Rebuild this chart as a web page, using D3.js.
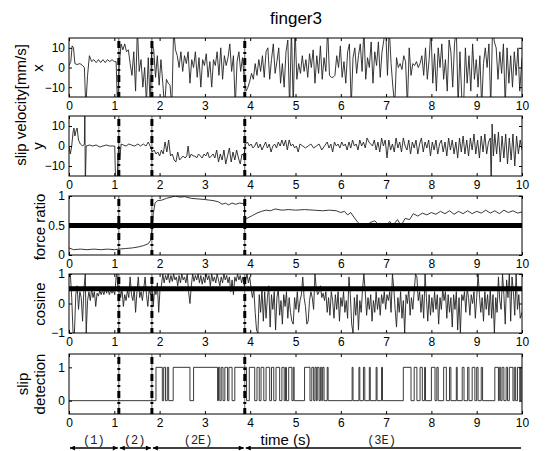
<!DOCTYPE html>
<html><head><meta charset="utf-8">
<script src="https://cdn.jsdelivr.net/npm/d3@7"></script>
<style>
body{margin:0;background:#fff;}
svg{display:block;font-family:"Liberation Sans",Arial,sans-serif;}
.tick text{font-size:12px;fill:#000;}
.tick line{stroke:#000;}
</style></head>
<body><svg id="c" width="546" height="451"></svg>
<script>
// ---------- DATA ----------
const xTicks = [0,1,2,3,4,5,6,7,8,9,10];
const phaseBounds = [1.1, 1.83, 3.88];
const phaseLabels = ["(1)","(2)","(2E)","(3E)"];
const phaseLabelT = [0.55, 1.45, 2.85, 6.9];

const velX = [[0,1],[0.04,3],[0.07,11],[0.1,10],[0.13,2],[0.18,1.5],[0.24,2],[0.3,1],[0.34,0],[0.37,-20],[0.41,-4],[0.45,6],[0.5,3],[0.55,4],[0.6,2.5],[0.65,4],[0.7,2.5],[0.75,4],[0.8,2.5],[0.85,4],[0.9,3],[0.95,4],[1,3],[1.04,3],[1.07,-20],[1.11,2],[1.15,12],[1.19,9],[1.23,12],[1.27,8],[1.31,9],[1.35,2],[1.39,-4],[1.43,8],[1.47,-12],[1.51,20],[1.55,-2],[1.59,4],[1.63,-10],[1.67,0],[1.71,-18],[1.75,5],[1.79,-18],[1.83,12],[1.87,9],[1.91,-5],[1.95,6],[1.99,-9],[2.03,4],[2.07,-8],[2.11,-20],[2.15,-6],[2.19,-8],[2.23,-9],[2.27,-20],[2.31,20],[2.35,9],[2.39,6],[2.43,0],[2.47,8],[2.51,-2],[2.55,6],[2.59,2],[2.63,8],[2.67,-8],[2.71,4],[2.75,0],[2.79,8],[2.83,-5],[2.87,5],[2.91,-10],[2.95,4],[2.99,1],[3.03,7],[3.07,-5],[3.11,3],[3.15,-10],[3.19,4],[3.23,1],[3.27,8],[3.31,-4],[3.35,10],[3.39,-6],[3.43,6],[3.47,1],[3.51,5],[3.55,12],[3.59,-2],[3.63,6],[3.67,-20],[3.71,3],[3.75,8],[3.79,-2],[3.83,5],[3.87,-6],[3.91,-12],[3.95,-10],[3.99,-7],[4.03,-3],[4.07,-6],[4.11,2],[4.15,-4],[4.19,4],[4.23,-2],[4.27,6],[4.31,-5],[4.35,8],[4.39,10],[4.43,-6],[4.47,4],[4.51,12],[4.55,-3],[4.59,3],[4.63,10],[4.67,-8],[4.71,2],[4.75,-10],[4.79,8],[4.83,14],[4.87,-20],[4.91,20],[4.95,-20],[4.99,20],[5.03,-6],[5.07,2],[5.11,-3],[5.15,6],[5.19,-2],[5.23,4],[5.27,-5],[5.31,7],[5.35,0],[5.39,9],[5.43,-8],[5.47,6],[5.51,-3],[5.55,11],[5.59,-6],[5.63,5],[5.67,-2],[5.71,20],[5.75,-4],[5.79,-5],[5.83,-5],[5.87,-4],[5.91,6],[5.95,0],[5.99,11],[6.03,-5],[6.07,3],[6.11,-8],[6.15,8],[6.19,12],[6.23,-20],[6.27,5],[6.31,10],[6.35,-3],[6.39,6],[6.43,12],[6.47,-2],[6.51,20],[6.55,-6],[6.59,5],[6.63,0],[6.67,13],[6.71,-8],[6.75,8],[6.79,1],[6.83,13],[6.87,-5],[6.91,8],[6.95,14],[6.99,20],[7.03,-4],[7.07,20],[7.11,2],[7.15,-10],[7.19,-20],[7.23,5],[7.27,0],[7.31,2],[7.35,-1],[7.39,6],[7.43,3],[7.47,-20],[7.51,10],[7.55,-4],[7.59,2],[7.63,1],[7.67,3],[7.71,0],[7.75,2],[7.79,6],[7.83,-4],[7.87,10],[7.91,-6],[7.95,4],[7.99,20],[8.03,-8],[8.07,7],[8.11,-12],[8.15,10],[8.19,0],[8.23,12],[8.27,-6],[8.31,4],[8.35,-12],[8.39,14],[8.43,8],[8.47,-10],[8.51,12],[8.55,20],[8.59,-20],[8.63,8],[8.67,-15],[8.71,-20],[8.75,10],[8.79,-8],[8.83,6],[8.87,-12],[8.91,12],[8.95,-6],[8.99,4],[9.03,-10],[9.07,6],[9.11,-20],[9.15,2],[9.19,10],[9.23,0],[9.27,12],[9.31,-20],[9.35,20],[9.39,13],[9.43,10],[9.47,-6],[9.51,8],[9.55,-3],[9.59,12],[9.63,-20],[9.67,10],[9.71,-8],[9.75,6],[9.79,-10],[9.83,8],[9.87,-4],[9.91,10],[9.95,-12],[10,5]];

const velY = [[0,0],[0.03,-4],[0.06,0],[0.09,7],[0.11,9],[0.13,5],[0.16,8],[0.18,9],[0.21,3],[0.25,1],[0.3,0],[0.34,1],[0.35,20],[0.36,-20],[0.38,0],[0.45,0.5],[0.52,0],[0.6,0.5],[0.68,-0.5],[0.75,0],[0.82,0.5],[0.9,0],[0.97,0],[1.01,0],[1.03,-20],[1.06,-20],[1.08,-5],[1.1,0],[1.12,-7],[1.15,1],[1.2,0.5],[1.26,0],[1.32,1],[1.38,0.5],[1.45,0],[1.52,1],[1.58,0],[1.64,1],[1.7,0],[1.75,2],[1.79,0],[1.84,-3],[1.88,-2],[1.92,-4],[1.96,-3],[2,-5],[2.04,-2],[2.08,-4],[2.12,2],[2.16,-3],[2.2,3],[2.24,-5],[2.28,-4],[2.32,-7],[2.36,-8],[2.4,-3],[2.44,-7],[2.48,-6],[2.52,-5],[2.56,-6],[2.6,-5],[2.63,0],[2.66,-6],[2.7,-4],[2.74,-5],[2.78,-5],[2.82,-6],[2.86,-4],[2.9,-5],[2.94,-6],[2.98,-4],[3.02,-5],[3.06,-3],[3.1,-6],[3.14,-5],[3.18,-4],[3.22,-6],[3.26,-2],[3.3,-8],[3.34,-4],[3.38,-7],[3.42,-2],[3.46,-9],[3.5,-5],[3.54,-1],[3.58,-8],[3.62,-3],[3.66,-7],[3.7,-2],[3.74,-6],[3.78,-9],[3.82,-4],[3.86,-5],[3.9,1],[3.94,2],[3.98,0],[4.02,1],[4.06,-1],[4.1,0],[4.14,2],[4.18,-1],[4.22,1],[4.26,-2],[4.3,0],[4.34,2],[4.38,-1],[4.42,1],[4.46,-3],[4.5,0],[4.54,1],[4.58,-1],[4.62,2],[4.66,0],[4.7,3],[4.74,0],[4.78,3],[4.82,-2],[4.86,3],[4.9,0],[4.94,1],[4.98,-1],[5.02,0],[5.06,-3],[5.1,1],[5.16,0],[5.22,-1],[5.28,0],[5.34,1],[5.4,-1],[5.46,0],[5.52,1],[5.58,-2],[5.64,0],[5.7,2],[5.74,-1],[5.78,1],[5.82,-3],[5.86,2],[5.9,0],[5.94,1],[5.98,-1],[6.02,2],[6.06,0],[6.1,1],[6.14,-2],[6.18,2],[6.22,-1],[6.26,3],[6.3,0],[6.34,1],[6.38,-2],[6.42,3],[6.46,0],[6.5,2],[6.54,-1],[6.58,4],[6.62,2],[6.66,1],[6.7,0],[6.74,3],[6.78,-2],[6.82,2],[6.86,-3],[6.9,4],[6.94,0],[6.98,3],[7.02,-6],[7.06,3],[7.1,-2],[7.14,1],[7.18,-3],[7.22,4],[7.26,-1],[7.3,2],[7.34,-3],[7.38,4],[7.42,0],[7.46,-2],[7.5,3],[7.54,-4],[7.58,2],[7.62,-1],[7.66,3],[7.7,-4],[7.74,1],[7.78,4],[7.82,-3],[7.86,2],[7.9,-1],[7.94,3],[7.98,-5],[8.02,2],[8.06,-2],[8.1,3],[8.14,-4],[8.18,1],[8.22,3],[8.26,-3],[8.3,2],[8.34,-5],[8.38,4],[8.42,-2],[8.46,3],[8.5,-4],[8.54,2],[8.58,-6],[8.62,4],[8.66,-3],[8.7,5],[8.74,-4],[8.78,3],[8.82,-5],[8.86,4],[8.9,-2],[8.94,6],[8.98,-4],[9.02,3],[9.06,-6],[9.1,5],[9.14,-3],[9.18,6],[9.22,-4],[9.26,2],[9.3,4],[9.32,-20],[9.34,11],[9.37,-5],[9.4,6],[9.44,-4],[9.48,7],[9.52,-8],[9.56,5],[9.6,-6],[9.64,6],[9.68,-9],[9.72,4],[9.76,-7],[9.8,6],[9.84,-10],[9.88,5],[9.92,-4],[9.96,3],[10,-2]];

const forceRatio = [[0,0.12],[0.1,0.09],[0.25,0.1],[0.4,0.09],[0.55,0.1],[0.7,0.09],[0.85,0.1],[1.0,0.09],[1.1,0.1],[1.25,0.11],[1.4,0.12],[1.55,0.14],[1.65,0.16],[1.75,0.19],[1.8,0.25],[1.83,0.4],[1.86,0.7],[1.9,0.88],[1.95,0.92],[2.05,0.93],[2.15,0.96],[2.25,0.98],[2.35,1.0],[2.45,0.98],[2.55,0.99],[2.7,0.96],[2.85,0.95],[3.0,0.94],[3.1,0.93],[3.2,0.92],[3.3,0.9],[3.38,0.86],[3.45,0.88],[3.52,0.85],[3.6,0.88],[3.68,0.86],[3.76,0.88],[3.87,0.87],[3.88,0.6],[3.95,0.63],[4.05,0.67],[4.15,0.71],[4.25,0.74],[4.35,0.76],[4.45,0.75],[4.55,0.78],[4.7,0.76],[4.85,0.77],[5.0,0.76],[5.2,0.77],[5.4,0.76],[5.6,0.75],[5.75,0.76],[5.9,0.75],[6.0,0.72],[6.08,0.74],[6.15,0.68],[6.22,0.72],[6.3,0.63],[6.38,0.55],[6.45,0.5],[6.55,0.49],[6.65,0.55],[6.75,0.58],[6.85,0.5],[6.92,0.53],[7.0,0.49],[7.08,0.57],[7.15,0.5],[7.25,0.6],[7.33,0.5],[7.42,0.62],[7.52,0.6],[7.6,0.7],[7.7,0.66],[7.8,0.71],[7.9,0.68],[8.0,0.72],[8.1,0.69],[8.2,0.74],[8.3,0.7],[8.4,0.75],[8.5,0.69],[8.6,0.74],[8.7,0.7],[8.8,0.75],[8.9,0.7],[9.0,0.74],[9.1,0.71],[9.2,0.76],[9.3,0.71],[9.4,0.75],[9.5,0.7],[9.6,0.76],[9.7,0.72],[9.8,0.75],[9.9,0.71],[10,0.73]];

const cosine = [[0,0.9],[0.03,1],[0.06,0.2],[0.09,-1],[0.12,-1],[0.15,0.3],[0.18,0.6],[0.21,-0.2],[0.24,0.4],[0.27,0.2],[0.3,-0.6],[0.33,0.5],[0.36,1],[0.38,-1],[0.41,0.1],[0.44,0.4],[0.47,0.1],[0.5,0.5],[0.53,0.2],[0.56,0.4],[0.59,-0.1],[0.62,0.35],[0.65,0.25],[0.68,0.45],[0.71,0.3],[0.74,0.45],[0.77,0.3],[0.8,0.5],[0.83,0.35],[0.86,0.5],[0.89,0.3],[0.92,0.45],[0.95,0.35],[0.98,0.45],[1.01,0.3],[1.04,0.9],[1.06,1],[1.08,0.4],[1.11,0.6],[1.14,0.2],[1.17,0.5],[1.2,-0.1],[1.23,0.3],[1.26,0.1],[1.29,0.45],[1.32,0.2],[1.35,0.9],[1.38,0.3],[1.41,0.1],[1.44,0.5],[1.47,-0.3],[1.5,0.4],[1.53,0.9],[1.56,0.2],[1.59,0.4],[1.62,0.1],[1.65,0.5],[1.68,0.9],[1.71,0.3],[1.74,-0.1],[1.77,0.5],[1.8,0.3],[1.83,0.6],[1.86,-0.1],[1.89,0.5],[1.92,0.3],[1.95,0.7],[1.98,-0.3],[2.01,0.5],[2.04,0.6],[2.07,1],[2.1,0.7],[2.13,0.95],[2.16,0.8],[2.19,1],[2.22,0.7],[2.25,0.95],[2.28,0.75],[2.31,1],[2.34,0.8],[2.37,0.9],[2.4,0.6],[2.43,0.95],[2.46,0.7],[2.49,1],[2.52,0.8],[2.55,0.9],[2.58,0.7],[2.61,1],[2.64,0.4],[2.67,0],[2.7,0.6],[2.73,1],[2.76,0.75],[2.79,0.95],[2.82,0.8],[2.85,1],[2.88,0.7],[2.91,0.95],[2.94,0.65],[2.97,0.9],[3,0.7],[3.03,1],[3.06,0.8],[3.09,0.95],[3.12,0.6],[3.15,1],[3.18,0.75],[3.21,0.9],[3.24,0.7],[3.27,1],[3.3,0.8],[3.33,0.6],[3.36,0.9],[3.39,0.7],[3.42,1],[3.45,0.8],[3.48,0.95],[3.51,0.7],[3.54,0.9],[3.57,0.4],[3.6,0.8],[3.63,0.3],[3.66,0.9],[3.69,0.75],[3.72,1],[3.75,0.8],[3.78,0.95],[3.81,0.7],[3.84,0.9],[3.87,0.6],[3.9,0.8],[3.93,1],[3.96,0.7],[3.99,0.9],[4.02,0.5],[4.05,0.2],[4.08,0.5],[4.11,-0.3],[4.14,-0.9],[4.17,-1],[4.2,0.3],[4.23,-0.3],[4.26,0.5],[4.29,-0.6],[4.32,0.4],[4.35,-0.5],[4.38,0.2],[4.41,0.6],[4.44,-0.8],[4.47,0.3],[4.5,-0.2],[4.53,0.4],[4.56,-0.9],[4.59,0.2],[4.62,0.5],[4.65,-0.4],[4.68,0.1],[4.71,-0.7],[4.74,0.3],[4.77,-0.1],[4.8,0.4],[4.83,-0.5],[4.86,0.2],[4.89,-0.3],[4.92,-0.6],[4.95,-0.7],[4.98,0.2],[5.01,-0.2],[5.04,0.4],[5.07,-0.3],[5.1,0.1],[5.13,0.3],[5.16,0.9],[5.19,0.2],[5.22,-0.1],[5.25,-0.7],[5.28,-0.6],[5.31,0.1],[5.34,0.4],[5.37,0.2],[5.4,-0.2],[5.43,1],[5.46,0.5],[5.49,0.3],[5.52,0.4],[5.55,0.6],[5.58,0.2],[5.61,0.35],[5.64,0.1],[5.67,0.4],[5.7,-0.3],[5.73,0.2],[5.76,-0.4],[5.79,0.4],[5.82,0.1],[5.85,-0.5],[5.88,0.3],[5.91,-0.2],[5.94,0.4],[5.97,-0.6],[6,0.2],[6.03,-0.1],[6.06,0.4],[6.09,-0.3],[6.12,0.1],[6.15,-0.5],[6.18,0.9],[6.21,0.3],[6.24,-0.7],[6.27,-1],[6.3,0.2],[6.33,-0.4],[6.36,0.3],[6.39,-0.9],[6.42,0.1],[6.45,-0.3],[6.48,0.5],[6.51,1],[6.54,0.4],[6.57,-0.4],[6.6,0.2],[6.63,-0.2],[6.66,0.3],[6.69,-0.6],[6.72,0.1],[6.75,-0.3],[6.78,0.4],[6.81,-0.2],[6.84,0.2],[6.87,-0.4],[6.9,0.3],[6.93,0],[6.96,0.4],[6.99,-0.2],[7.02,0.3],[7.05,0.1],[7.08,0.4],[7.11,-0.3],[7.14,1],[7.17,0.5],[7.2,-0.2],[7.23,-0.8],[7.26,0.2],[7.29,-0.3],[7.32,0.4],[7.35,-0.5],[7.38,0.1],[7.41,-1],[7.44,0.3],[7.47,0],[7.5,0.5],[7.53,-0.4],[7.56,0.2],[7.59,-0.2],[7.62,0.4],[7.65,1],[7.68,0.9],[7.71,0.1],[7.74,0.4],[7.77,-0.3],[7.8,0.3],[7.83,-0.5],[7.86,1],[7.89,0.2],[7.92,-0.6],[7.95,0.3],[7.98,-0.4],[8.01,0.2],[8.04,-0.3],[8.07,0.4],[8.1,-0.2],[8.13,0.3],[8.16,-0.7],[8.19,0.2],[8.22,-0.2],[8.25,0.5],[8.28,0.1],[8.31,0.4],[8.34,-0.5],[8.37,0.3],[8.4,-0.3],[8.43,0.2],[8.46,-0.8],[8.49,0.3],[8.52,-0.2],[8.55,0.4],[8.58,-0.9],[8.61,0.2],[8.64,-1],[8.67,0.3],[8.7,0.1],[8.73,0.4],[8.76,-0.3],[8.79,0.5],[8.82,0.2],[8.85,-0.4],[8.88,0.3],[8.91,0],[8.94,0.4],[8.97,-0.5],[9,0.2],[9.03,1],[9.06,0.3],[9.09,-0.3],[9.12,0.2],[9.15,-0.6],[9.18,0.4],[9.21,-0.2],[9.24,0.3],[9.27,-0.4],[9.3,0.5],[9.33,-0.5],[9.36,0.3],[9.39,-1],[9.42,0.2],[9.45,-0.3],[9.48,0.9],[9.51,0.1],[9.54,-0.2],[9.57,1],[9.6,0.3],[9.63,-0.7],[9.66,0.8],[9.69,0.2],[9.72,1],[9.75,-0.6],[9.78,0.9],[9.81,0.4],[9.84,-0.4],[9.87,1],[9.9,-0.2],[9.93,0.3],[9.96,-0.5],[10,-0.3]];

const slipOn = [[1.92,2.06],[2.09,2.13],[2.17,2.2],[2.3,2.67],[2.75,3.28],[3.3,3.33],[3.36,3.4],[3.44,3.5],[3.53,3.6],[3.66,3.92],[3.98,4.1],[4.15,4.2],[4.24,4.3],[4.35,4.43],[4.47,4.52],[4.57,4.65],[4.7,4.75],[4.78,4.8],[4.85,4.92],[4.95,4.97],[5.2,5.32],[5.36,5.4],[5.43,5.46],[5.48,5.52],[5.55,5.58],[5.6,5.63],[5.7,5.72],[6.25,6.27],[6.4,6.42],[6.5,6.53],[6.63,6.65],[6.78,6.8],[6.9,6.92],[7.38,7.55],[7.62,7.68],[7.75,7.8],[7.85,7.87],[8.0,8.08],[8.12,8.15],[8.27,8.33],[8.4,8.43],[8.55,8.57],[8.68,8.72],[8.8,8.83],[8.9,8.96],[9.0,9.03],[9.1,9.13],[9.4,9.48],[9.5,9.53],[9.56,9.6],[9.65,9.68],[9.72,9.8],[9.83,9.86],[9.9,9.95],[9.97,10]];

const thresholdForce = 0.5;
const thresholdCos = 0.5;

// ---------- DRAW ----------
const svg = d3.select("#c");
const x = d3.scaleLinear().domain([0,10]).range([69,522]);

function slipSeries(){
  const pts=[[0,0]];
  slipOn.forEach(([s,e])=>{pts.push([s,0],[s,1],[e,1],[e,0]);});
  pts.push([10,0]);
  return pts;
}

const panels = [
  {data:velX, domain:[-15,15], ticks:[-10,0,10], top:38, bottom:97},
  {data:velY, domain:[-15,15], ticks:[-10,0,10], top:116, bottom:176},
  {data:forceRatio, domain:[0,1], ticks:[0,0.5,1], top:196, bottom:255, thr:thresholdForce},
  {data:cosine, domain:[-1,1], ticks:[-1,0,1], top:274, bottom:333, thr:thresholdCos},
  {data:slipSeries(), domain:[-0.4,1.4], ticks:[0,1], top:354, bottom:414}
];

panels.forEach((p,i)=>{
  const y = d3.scaleLinear().domain(p.domain).range([p.bottom,p.top]);
  const g = svg.append("g");
  const cid = "clip"+i;
  svg.append("clipPath").attr("id",cid).append("rect")
    .attr("x",x(0)).attr("y",p.top).attr("width",x(10)-x(0)).attr("height",p.bottom-p.top);
  const inner = g.append("g").attr("clip-path",`url(#${cid})`);
  const line = d3.line().x(d=>x(d[0])).y(d=>y(d[1]));
  inner.append("path").datum(p.data).attr("d",line)
    .attr("fill","none").attr("stroke","#222").attr("stroke-width",0.9).attr("stroke-linejoin","round");
  if(p.thr!==undefined){
    inner.append("line").attr("x1",x(0)).attr("x2",x(10)).attr("y1",y(p.thr)).attr("y2",y(p.thr))
      .attr("stroke","#000").attr("stroke-width",5);
  }
  phaseBounds.forEach(b=>{
    inner.append("line").attr("x1",x(b)).attr("x2",x(b)).attr("y1",p.top).attr("y2",p.bottom)
      .attr("stroke","#000").attr("stroke-width",0.6);
    inner.append("line").attr("x1",x(b)).attr("x2",x(b)).attr("y1",p.top+3).attr("y2",p.bottom)
      .attr("stroke","#000").attr("stroke-width",3).attr("stroke-dasharray","7,4,2,4");
  });
  // axes
  const ab = g.append("g").attr("transform",`translate(0,${p.bottom})`)
    .call(d3.axisBottom(x).tickValues(xTicks).tickSize(-3).tickPadding(4).tickFormat(d3.format("d")));
  const at = g.append("g").attr("transform",`translate(0,${p.top})`)
    .call(d3.axisTop(x).tickValues(xTicks).tickSize(-3).tickFormat(""));
  const al = g.append("g").attr("transform",`translate(${x(0)},0)`)
    .call(d3.axisLeft(y).tickValues(p.ticks).tickSize(-3).tickPadding(4).tickFormat(d3.format("")));
  const ar = g.append("g").attr("transform",`translate(${x(10)},0)`)
    .call(d3.axisRight(y).tickValues(p.ticks).tickSize(-3).tickFormat(""));
  [ab,at,al,ar].forEach(a=>{a.select(".domain").remove(); a.selectAll("text").style("font-family","'Liberation Sans',Arial,sans-serif");});
  g.append("rect").attr("x",x(0)).attr("y",p.top).attr("width",x(10)-x(0)).attr("height",p.bottom-p.top)
    .attr("fill","none").attr("stroke","#000").attr("stroke-width",1);
});

// title
svg.append("text").attr("x",296).attr("y",24).attr("text-anchor","middle")
  .style("font-size","17px").text("finger3");

// y labels
function vlabel(txt,cx,cy){
  svg.append("text").attr("transform",`translate(${cx},${cy}) rotate(-90)`)
    .attr("text-anchor","middle").style("font-size","15px").text(txt);
}
vlabel("slip velocity[mm/s]",26,105);
vlabel("x",43,68);
vlabel("y",43,146);
vlabel("force ratio",45,227);
vlabel("cosine",45,304);
vlabel("slip",28,384);
vlabel("detection",45,384);

// time label
svg.append("text").attr("x",x(5)-10).attr("y",445).attr("text-anchor","middle")
  .style("font-size","15px").text("time (s)");

// phase arrows
const defs = svg.append("defs");
defs.append("marker").attr("id","ah").attr("viewBox","0 0 10 10").attr("refX",10).attr("refY",5)
  .attr("markerWidth",8).attr("markerHeight",5).attr("orient","auto-start-reverse").attr("markerUnits","userSpaceOnUse")
  .append("path").attr("d","M0,0L10,5L0,10z").attr("fill","#000");
const bounds=[0,...phaseBounds,10];
for(let k=0;k<4;k++){
  svg.append("line").attr("x1",x(bounds[k])+1).attr("x2",x(bounds[k+1])-1).attr("y1",448).attr("y2",448)
    .attr("stroke","#000").attr("stroke-width",1.5)
    .attr("marker-start","url(#ah)").attr("marker-end", k<3?"url(#ah)":null);
  svg.append("text").attr("x",x(phaseLabelT[k])).attr("y",444).attr("text-anchor","middle")
    .style("font-family","'Liberation Mono','DejaVu Sans Mono',monospace").style("font-size","12px")
    .attr("fill","#222").text(phaseLabels[k]);
}
</script></body></html>
